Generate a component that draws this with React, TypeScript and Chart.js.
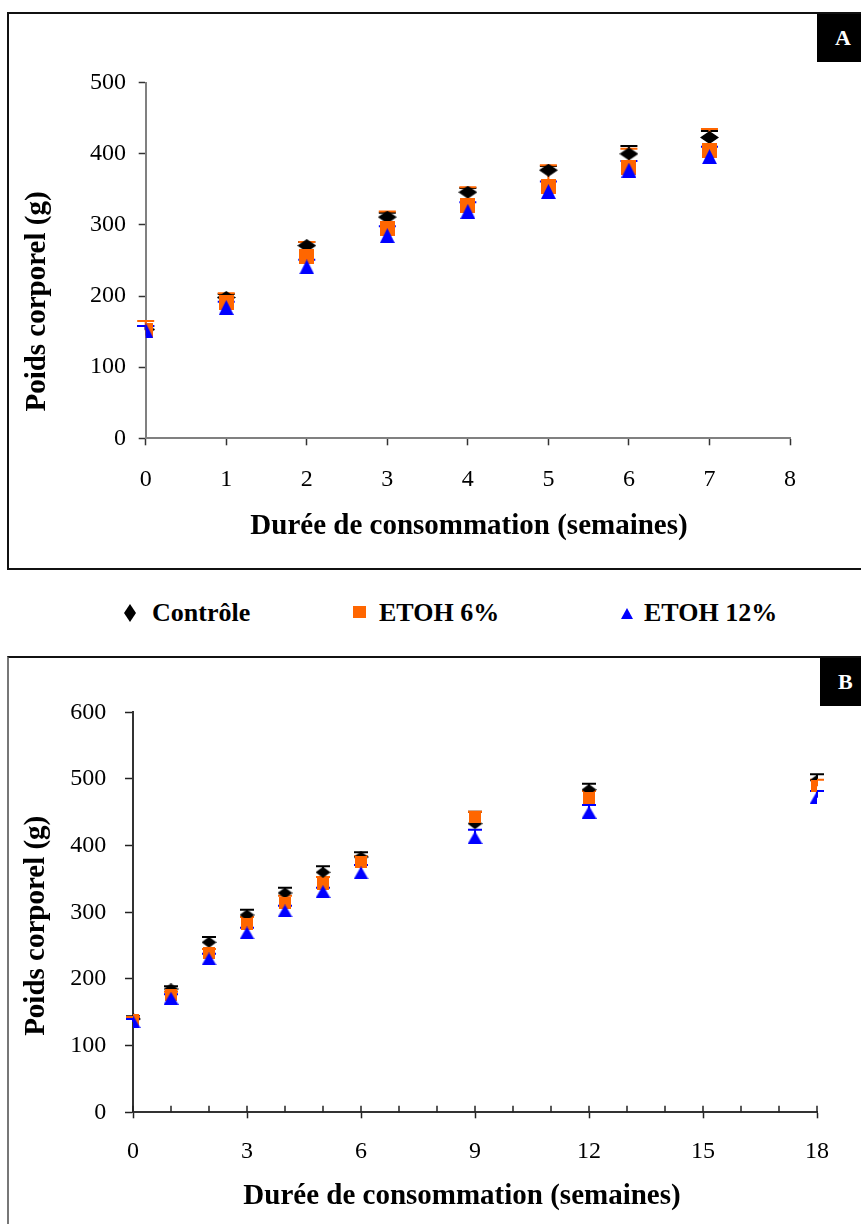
import React, { useEffect, useRef } from 'react';
import { Chart, registerables } from 'chart.js';

Chart.register(...registerables);

// ---------- data ----------
const seriesNames = ['Contrôle', 'ETOH 6%', 'ETOH 12%'];
const seriesColors = ['#000000', '#FF6600', '#0000FF'];

const weeksA = [0, 1, 2, 3, 4, 5, 6, 7];
const controlA = [153, 198, 271, 311, 346, 377, 400, 423];
const etoh6A = [152, 191, 255, 295, 327, 354, 381, 404];
const etoh12A = [152, 184, 241, 285, 319, 347, 377, 396];
const controlErrA = [5, 5, 5, 6, 6, 6, 11, 9];
const etoh6ErrA = [13, 13, 21, 24, 26, 30, 26, 31];
const etoh12ErrA = [6, 8, 10, 13, 13, 14, 13, 14];

const weeksB = [0, 1, 2, 3, 4, 5, 6, 9, 12, 18];
const controlB = [140, 185, 255, 296, 329, 360, 383, 433, 484, 498];
const etoh6B = [139, 176, 239, 283, 314, 343, 375, 443, 472, 489];
const etoh12B = [136, 171, 230, 269, 302, 331, 359, 412, 450, 472];
const controlErrB = [4, 4, 8, 8, 8, 9, 7, 18, 9, 9];
const etoh6ErrB = [4, 5, 6, 10, 11, 10, 9, 8, 10, 10];
const etoh12ErrB = [4, 6, 8, 8, 8, 6, 12, 12, 11, 10];

const xTitle = 'Durée de consommation (semaines)';
const yTitle = 'Poids corporel (g)';
const FONT = "'Liberation Serif', 'Times New Roman', serif";

// ---------- helpers ----------
function makeMarker(shape: string, w: number, h: number, color: string) {
  const c = document.createElement('canvas');
  c.width = w;
  c.height = h;
  const ctx = c.getContext('2d')!;
  ctx.fillStyle = color;
  ctx.beginPath();
  if (shape === 'diamond') {
    ctx.moveTo(w / 2, 0);
    ctx.lineTo(w, h / 2);
    ctx.lineTo(w / 2, h);
    ctx.lineTo(0, h / 2);
  } else if (shape === 'triangle') {
    ctx.moveTo(w / 2, 0);
    ctx.lineTo(w, h);
    ctx.lineTo(0, h);
  } else {
    ctx.rect(0, 0, w, h);
  }
  ctx.closePath();
  ctx.fill();
  return c;
}

const errorBarPlugin = {
  id: 'errorBars',
  beforeDatasetsDraw(chart: any, _args: any, opts: any) {
    const ctx = chart.ctx;
    const ys = chart.scales.y;
    ctx.save();
    chart.data.datasets.forEach((ds: any, i: number) => {
      const meta = chart.getDatasetMeta(i);
      const errs = ds.errPlus;
      if (!errs) return;
      ctx.strokeStyle = ds.errColor;
      ctx.lineWidth = opts.width || 2;
      meta.data.forEach((pt: any, j: number) => {
        const v = ds.data[j].y;
        const top = ys.getPixelForValue(v + errs[j]);
        const x = pt.x;
        ctx.beginPath();
        ctx.moveTo(x, pt.y);
        ctx.lineTo(x, top);
        ctx.moveTo(x - opts.cap / 2, top);
        ctx.lineTo(x + opts.cap / 2, top);
        ctx.stroke();
      });
    });
    ctx.restore();
  },
};

const innerTickPlugin = {
  id: 'innerTicks',
  afterDraw(chart: any, _args: any, opts: any) {
    if (!opts || !opts.enabled) return;
    const ctx = chart.ctx;
    const xs = chart.scales.x;
    const bottom = chart.chartArea.bottom;
    ctx.save();
    ctx.strokeStyle = opts.color;
    ctx.lineWidth = 1.5;
    for (let v = xs.min; v <= xs.max; v += 1) {
      const x = xs.getPixelForValue(v);
      ctx.beginPath();
      ctx.moveTo(x, bottom);
      ctx.lineTo(x, bottom - opts.length);
      ctx.stroke();
    }
    ctx.restore();
  },
};

const axisTitlePlugin = {
  id: 'axisTitles',
  afterDraw(chart: any, _args: any, opts: any) {
    const ctx = chart.ctx;
    ctx.save();
    ctx.fillStyle = '#000';
    ctx.font = `bold ${opts.size}px ${FONT}`;
    ctx.textAlign = 'center';
    ctx.textBaseline = 'middle';
    ctx.fillText(opts.xText, opts.xCx, opts.xCy);
    ctx.translate(opts.yCx, opts.yCy);
    ctx.rotate(-Math.PI / 2);
    ctx.fillText(opts.yText, 0, 0);
    ctx.restore();
  },
};

type Geo = {
  weeks: number[];
  series: number[][];
  errs: number[][];
  markers: HTMLCanvasElement[];
  xMax: number;
  yMax: number;
  yAxisWidth: number;
  xAxisHeight: number;
  padRight: number;
  padTop: number;
  yTickLen: number;
  yTickPad: number;
  xTickLen: number;
  xTickPad: number;
  borderColor: string;
  tickColor: string;
  cap: number;
  majorEvery: number;
  inner: boolean;
  titles: { xCx: number; xCy: number; yCx: number; yCy: number };
};

function buildConfig(g: Geo): any {
  return {
    type: 'scatter',
    data: {
      datasets: g.series.map((vals, i) => ({
        label: seriesNames[i],
        data: g.weeks.map((w, j) => ({ x: w, y: vals[j] })),
        pointStyle: g.markers[i],
        pointRadius: 8,
        showLine: false,
        backgroundColor: seriesColors[i],
        borderColor: seriesColors[i],
        errPlus: g.errs[i],
        errColor: seriesColors[i],
        order: 3 - i,
      })),
    },
    options: {
      responsive: false,
      animation: false,
      devicePixelRatio: 1,
      layout: {
        autoPadding: false,
        padding: { left: 0, right: g.padRight, top: g.padTop, bottom: 0 },
      },
      plugins: {
        legend: { display: false },
        tooltip: { enabled: false },
        errorBars: { cap: g.cap, width: 2 },
        innerTicks: { enabled: g.inner, length: 6.5, color: g.tickColor },
        axisTitles: { size: 29, xText: xTitle, yText: yTitle, ...g.titles },
      },
      scales: {
        x: {
          type: 'linear',
          min: 0,
          max: g.xMax,
          afterFit: (s: any) => {
            s.height = g.xAxisHeight;
          },
          ticks: {
            stepSize: 1,
            autoSkip: false,
            maxRotation: 0,
            padding: g.xTickPad,
            color: '#000',
            font: { family: FONT, size: 24 },
            callback: (v: any) => (Number(v) % g.majorEvery === 0 ? String(v) : ''),
          },
          grid: {
            drawOnChartArea: false,
            drawTicks: true,
            tickLength: g.xTickLen,
            tickWidth: 1.5,
            tickColor: (c: any) =>
              c.tick && Number(c.tick.value) % g.majorEvery === 0 ? g.tickColor : 'rgba(0,0,0,0)',
          },
          border: { display: true, color: g.borderColor, width: 2 },
          title: { display: false },
        },
        y: {
          type: 'linear',
          min: 0,
          max: g.yMax,
          afterFit: (s: any) => {
            s.width = g.yAxisWidth;
          },
          ticks: {
            stepSize: 100,
            padding: g.yTickPad,
            color: '#000',
            font: { family: FONT, size: 24 },
          },
          grid: {
            drawOnChartArea: false,
            drawTicks: true,
            tickLength: g.yTickLen,
            tickWidth: 1.5,
            tickColor: g.tickColor,
          },
          border: { display: true, color: g.borderColor, width: 2 },
          title: { display: false },
        },
      },
    },
    plugins: [errorBarPlugin, innerTickPlugin, axisTitlePlugin],
  };
}

function Legend() {
  const textStyle: React.CSSProperties = {
    position: 'absolute',
    top: 598,
    fontFamily: FONT,
    fontWeight: 'bold',
    fontSize: 26,
    lineHeight: '30px',
    whiteSpace: 'nowrap',
    color: '#000',
  };
  return (
    <>
      <svg style={{ position: 'absolute', left: 124, top: 604 }} width={12} height={18}>
        <polygon points="6,0 12,9 6,18 0,9" fill={seriesColors[0]} />
      </svg>
      <div style={{ ...textStyle, left: 152 }}>{seriesNames[0]}</div>
      <svg style={{ position: 'absolute', left: 353, top: 606 }} width={13} height={12}>
        <rect x={0} y={0} width={13} height={12} fill={seriesColors[1]} />
      </svg>
      <div style={{ ...textStyle, left: 379 }}>{seriesNames[1]}</div>
      <svg style={{ position: 'absolute', left: 621, top: 608 }} width={12} height={11}>
        <polygon points="6,0 12,11 0,11" fill={seriesColors[2]} />
      </svg>
      <div style={{ ...textStyle, left: 644 }}>{seriesNames[2]}</div>
    </>
  );
}

export default function App() {
  const refA = useRef<HTMLCanvasElement>(null);
  const refB = useRef<HTMLCanvasElement>(null);

  useEffect(() => {
    document.body.style.margin = '0';
    document.documentElement.style.overflow = 'hidden';
    document.body.style.overflow = 'hidden';

    const markersA = [
      makeMarker('diamond', 19, 13, seriesColors[0]),
      makeMarker('square', 15, 15, seriesColors[1]),
      makeMarker('triangle', 15, 15, seriesColors[2]),
    ];
    const markersB = [
      makeMarker('diamond', 15, 11, seriesColors[0]),
      makeMarker('square', 12, 12, seriesColors[1]),
      makeMarker('triangle', 15, 13, seriesColors[2]),
    ];

    const chartA = new Chart(
      refA.current!,
      buildConfig({
        weeks: weeksA,
        series: [controlA, etoh6A, etoh12A],
        errs: [controlErrA, etoh6ErrA, etoh12ErrA],
        markers: markersA,
        xMax: 8,
        yMax: 500,
        yAxisWidth: 137.7,
        xAxisHeight: 130.7,
        padRight: 71,
        padTop: 69.7,
        yTickLen: 7,
        yTickPad: 12.7,
        xTickLen: 7,
        xTickPad: 20.3,
        borderColor: '#808080',
        tickColor: '#333333',
        cap: 17,
        majorEvery: 1,
        inner: false,
        titles: { xCx: 461, xCy: 513.7, yCx: 30, yCy: 288.5 },
      })
    );

    const chartB = new Chart(
      refB.current!,
      buildConfig({
        weeks: weeksB,
        series: [controlB, etoh6B, etoh12B],
        errs: [controlErrB, etoh6ErrB, etoh12ErrB],
        markers: markersB,
        xMax: 18,
        yMax: 600,
        yAxisWidth: 125,
        xAxisHeight: 111.7,
        padRight: 44,
        padTop: 55.3,
        yTickLen: 8,
        yTickPad: 18.7,
        xTickLen: 6,
        xTickPad: 19,
        borderColor: '#333333',
        tickColor: '#222222',
        cap: 14,
        majorEvery: 3,
        inner: true,
        titles: { xCx: 454, xCy: 539.7, yCx: 28.3, yCy: 268.8 },
      })
    );

    return () => {
      chartA.destroy();
      chartB.destroy();
    };
  }, []);

  const boxLabel = (left: number, top: number): React.CSSProperties => ({
    position: 'absolute',
    left,
    top,
    width: 60,
    height: 48,
    background: '#000',
    color: '#fff',
    fontFamily: FONT,
    fontWeight: 'bold',
    fontSize: 22,
    lineHeight: '48px',
    boxSizing: 'border-box',
  });

  return (
    <div style={{ position: 'relative', width: 861, height: 1224, overflow: 'hidden', background: '#fff' }}>
      <canvas
        ref={refA}
        width={853}
        height={556}
        style={{ position: 'absolute', left: 8, top: 13, width: 853, height: 556 }}
      />
      <div
        style={{
          position: 'absolute',
          left: 7,
          top: 12,
          width: 900,
          height: 558,
          border: '2px solid #111',
          boxSizing: 'border-box',
          pointerEvents: 'none',
        }}
      />
      <div style={boxLabel(817, 14)}>
        <span style={{ position: 'absolute', left: 18, top: 0 }}>A</span>
      </div>

      <Legend />

      <canvas
        ref={refB}
        width={853}
        height={567}
        style={{ position: 'absolute', left: 8, top: 657, width: 853, height: 567 }}
      />
      <div
        style={{
          position: 'absolute',
          left: 7,
          top: 656,
          width: 900,
          height: 700,
          border: '2px solid #111',
          borderLeftColor: '#777',
          boxSizing: 'border-box',
          pointerEvents: 'none',
        }}
      />
      <div style={boxLabel(820, 658)}>
        <span style={{ position: 'absolute', left: 18, top: 0 }}>B</span>
      </div>
    </div>
  );
}
